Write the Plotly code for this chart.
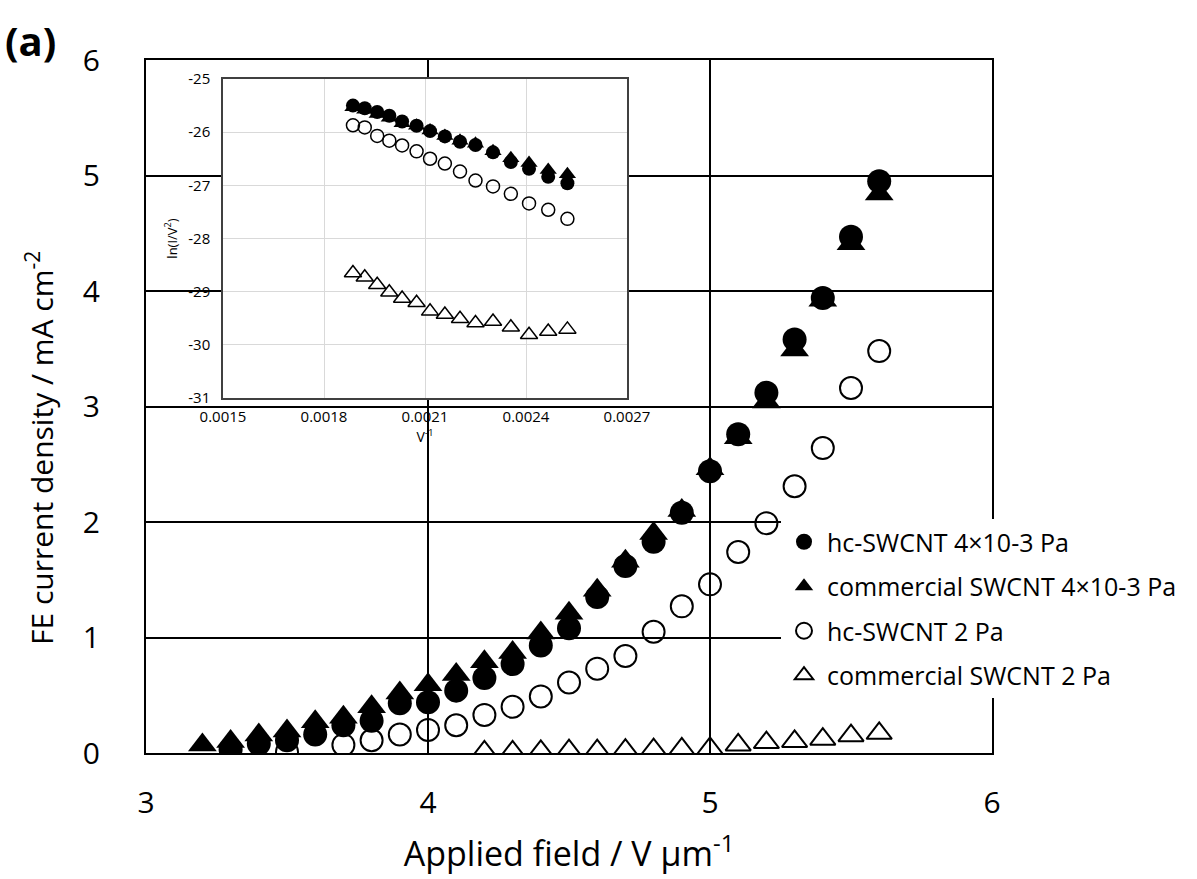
import plotly.graph_objects as go

# ---------------- data: main panel ----------------
field_hc_hv = [3.3, 3.4, 3.5, 3.6, 3.7, 3.8, 3.9, 4.0, 4.1, 4.2, 4.3, 4.4, 4.5, 4.6,
               4.7, 4.8, 4.9, 5.0, 5.1, 5.2, 5.3, 5.4, 5.5, 5.6]
j_hc_hv = [0.03, 0.08, 0.11, 0.16, 0.24, 0.28, 0.43, 0.44, 0.54, 0.65, 0.77, 0.93, 1.08, 1.35,
           1.62, 1.83, 2.08, 2.44, 2.76, 3.12, 3.58, 3.94, 4.47, 4.95]

field_com_hv = [3.2, 3.3, 3.4, 3.5, 3.6, 3.7, 3.8, 3.9, 4.0, 4.1, 4.2, 4.3, 4.4, 4.5, 4.6,
                4.7, 4.8, 4.9, 5.0, 5.1, 5.2, 5.3, 5.4, 5.5, 5.6]
j_com_hv = [0.07, 0.10, 0.155, 0.19, 0.27, 0.31, 0.40, 0.52, 0.59, 0.68, 0.79, 0.87, 1.04, 1.21,
            1.41, 1.66, 1.90, 2.10, 2.46, 2.73, 3.04, 3.49, 3.92, 4.41, 4.84]

field_hc_2pa = [3.5, 3.7, 3.8, 3.9, 4.0, 4.1, 4.2, 4.3, 4.4, 4.5, 4.6, 4.7, 4.8, 4.9, 5.0,
                5.1, 5.2, 5.3, 5.4, 5.5, 5.6]
j_hc_2pa = [0.01, 0.07, 0.11, 0.16, 0.20, 0.24, 0.33, 0.40, 0.49, 0.61, 0.73, 0.84, 1.05, 1.27,
            1.46, 1.74, 1.99, 2.31, 2.64, 3.16, 3.48]

field_com_2pa = [4.2, 4.3, 4.4, 4.5, 4.6, 4.7, 4.8, 4.9, 5.0, 5.1, 5.2, 5.3, 5.4, 5.5, 5.6]
j_com_2pa = [0.01, 0.01, 0.015, 0.02, 0.02, 0.025, 0.03, 0.035, 0.04, 0.07, 0.09, 0.10, 0.12,
             0.15, 0.17]

# ---------------- data: inset (F-N plot) ----------------
inv_v = [0.001886, 0.001921, 0.001958, 0.001994, 0.002032, 0.002075, 0.002115, 0.002159,
         0.002204, 0.002250, 0.002302, 0.002355, 0.002409, 0.002466, 0.002523]
ln_hc_hv = [-25.50, -25.55, -25.62, -25.69, -25.80, -25.88, -25.98, -26.08, -26.18, -26.24,
            -26.38, -26.56, -26.69, -26.84, -26.96]
ln_com_hv = [-25.53, -25.58, -25.66, -25.73, -25.83, -25.88, -25.97, -26.07, -26.16, -26.22,
             -26.36, -26.49, -26.58, -26.71, -26.79]
ln_hc_2pa = [-25.87, -25.91, -26.07, -26.16, -26.25, -26.36, -26.50, -26.59, -26.74, -26.91,
             -27.02, -27.16, -27.34, -27.46, -27.63]
ln_com_2pa = [-28.65, -28.73, -28.87, -29.01, -29.13, -29.21, -29.37, -29.43, -29.51, -29.59,
              -29.56, -29.67, -29.81, -29.75, -29.71]

series_names = ["hc-SWCNT 4×10-3 Pa", "commercial SWCNT 4×10-3 Pa",
                "hc-SWCNT 2 Pa", "commercial SWCNT 2 Pa"]

main_xticks = [3, 4, 5, 6]
main_yticks = [0, 1, 2, 3, 4, 5, 6]
inset_xticks = [0.0015, 0.0018, 0.0021, 0.0024, 0.0027]
inset_xticktext = ["0.0015", "0.0018", "0.0021", "0.0024", "0.0027"]
inset_yticks = [-31, -30, -29, -28, -27, -26, -25]
inset_yticktext = ["-31", "-30", "-29", "-28", "-27", "-26", "-25"]

W, H = 1197, 879
FONT = "Open Sans"

def px_x(p):
    return p / W

def px_y(p):
    return 1 - p / H

fig = go.Figure()

# main panel (open series first so filled marks sit on top)
fig.add_trace(go.Scatter(x=field_com_2pa, y=j_com_2pa, mode="markers", name=series_names[3],
                         legendrank=4, legendgroup="g4",
                         marker=dict(symbol="triangle-up-open", size=22, color="black",
                                     line=dict(width=2, color="black"))))
fig.add_trace(go.Scatter(x=field_hc_2pa, y=j_hc_2pa, mode="markers", name=series_names[2],
                         legendrank=3, legendgroup="g3",
                         marker=dict(symbol="circle-open", size=22, color="black",
                                     line=dict(width=2, color="black"))))
fig.add_trace(go.Scatter(x=field_com_hv, y=j_com_hv, mode="markers", name=series_names[1],
                         legendrank=2, legendgroup="g2",
                         marker=dict(symbol="triangle-up", size=25, color="black")))
fig.add_trace(go.Scatter(x=field_hc_hv, y=j_hc_hv, mode="markers", name=series_names[0],
                         legendrank=1, legendgroup="g1",
                         marker=dict(symbol="circle", size=24, color="black")))

# inset
fig.add_trace(go.Scatter(x=inv_v, y=ln_com_2pa, mode="markers", xaxis="x3", yaxis="y3",
                         showlegend=False,
                         marker=dict(symbol="triangle-up-open", size=15, color="black",
                                     line=dict(width=1.5, color="black"))))
fig.add_trace(go.Scatter(x=inv_v, y=ln_hc_2pa, mode="markers", xaxis="x3", yaxis="y3",
                         showlegend=False,
                         marker=dict(symbol="circle-open", size=13, color="black",
                                     line=dict(width=1.5, color="black"))))
fig.add_trace(go.Scatter(x=inv_v, y=ln_com_hv, mode="markers", xaxis="x3", yaxis="y3",
                         showlegend=False,
                         marker=dict(symbol="triangle-up", size=15, color="black")))
fig.add_trace(go.Scatter(x=inv_v, y=ln_hc_hv, mode="markers", xaxis="x3", yaxis="y3",
                         showlegend=False,
                         marker=dict(symbol="circle", size=14, color="black")))

fig.update_layout(
    width=W, height=H,
    margin=dict(l=0, r=0, t=0, b=0, pad=0),
    paper_bgcolor="white", plot_bgcolor="white",
    font=dict(family=FONT, color="black"),
    xaxis=dict(domain=[px_x(146), px_x(992)], range=[3, 6], tickvals=main_xticks,
               automargin=False,
               showline=True, mirror=True, linecolor="black", linewidth=2,
               showgrid=True, gridcolor="black", gridwidth=2, zeroline=False,
               ticks="", tickfont=dict(size=30, family=FONT), ticklabelstandoff=22,
               title=dict(text="Applied field / V μm<sup>-1</sup>",
                          font=dict(size=34, family=FONT), standoff=21),
               anchor="y"),
    yaxis=dict(domain=[px_y(753), px_y(60)], range=[0, 6], tickvals=main_yticks,
               automargin=False,
               showline=True, mirror=True, linecolor="black", linewidth=2,
               showgrid=True, gridcolor="black", gridwidth=2, zeroline=False,
               ticks="", tickfont=dict(size=30, family=FONT), ticklabelstandoff=38,
               anchor="x"),
    # inset frame (white panel with grey border)
    xaxis2=dict(domain=[px_x(150), px_x(665)], range=[0, 1], anchor="y2", automargin=False,
                showline=True, mirror=True, linecolor="#8c8c8c", linewidth=1.5,
                showgrid=False, zeroline=False, showticklabels=False, ticks=""),
    yaxis2=dict(domain=[px_y(462), px_y(58)], range=[0, 1], anchor="x2", automargin=False,
                showline=True, mirror=True, linecolor="#8c8c8c", linewidth=1.5,
                showgrid=False, zeroline=False, showticklabels=False, ticks=""),
    # inset plot
    xaxis3=dict(domain=[px_x(223), px_x(627)], range=[0.0015, 0.0027], anchor="y3",
                automargin=False, tickvals=inset_xticks, ticktext=inset_xticktext,
                showline=True, mirror=True, linecolor="#404040", linewidth=1.5,
                showgrid=True, gridcolor="#d9d9d9", gridwidth=1, zeroline=False,
                ticks="", tickfont=dict(size=15, family=FONT), ticklabelstandoff=4,
                title=dict(text="V<sup>-1</sup>", font=dict(size=14, family=FONT), standoff=4)),
    yaxis3=dict(domain=[px_y(398), px_y(79)], range=[-31, -25], anchor="x3",
                automargin=False, tickvals=inset_yticks, ticktext=inset_yticktext,
                showline=True, mirror=True, linecolor="#404040", linewidth=1.5,
                showgrid=True, gridcolor="#d9d9d9", gridwidth=1, zeroline=False,
                ticks="", tickfont=dict(size=15, family=FONT), ticklabelstandoff=8,
                title=dict(text="ln(I/V<sup>2</sup>)", font=dict(size=13, family=FONT), standoff=8)),
    legend=dict(x=px_x(781), xanchor="left", y=px_y(519), yanchor="top",
                bgcolor="white", borderwidth=0, traceorder="grouped", tracegroupgap=9,
                itemwidth=36,
                font=dict(size=25, family=FONT), itemsizing="trace"),
    annotations=[
        dict(text="<b>(a)</b>", x=px_x(30), y=px_y(40), xref="paper", yref="paper",
             xanchor="center", yanchor="middle",
             showarrow=False, font=dict(size=40, family=FONT)),
        dict(text="FE current density / mA cm<sup>-2</sup>", textangle=-90,
             x=px_x(40), y=px_y(448), xref="paper", yref="paper",
             xanchor="center", yanchor="middle",
             showarrow=False, font=dict(size=30, family=FONT)),
    ],
)

fig.write_html("out.html")
